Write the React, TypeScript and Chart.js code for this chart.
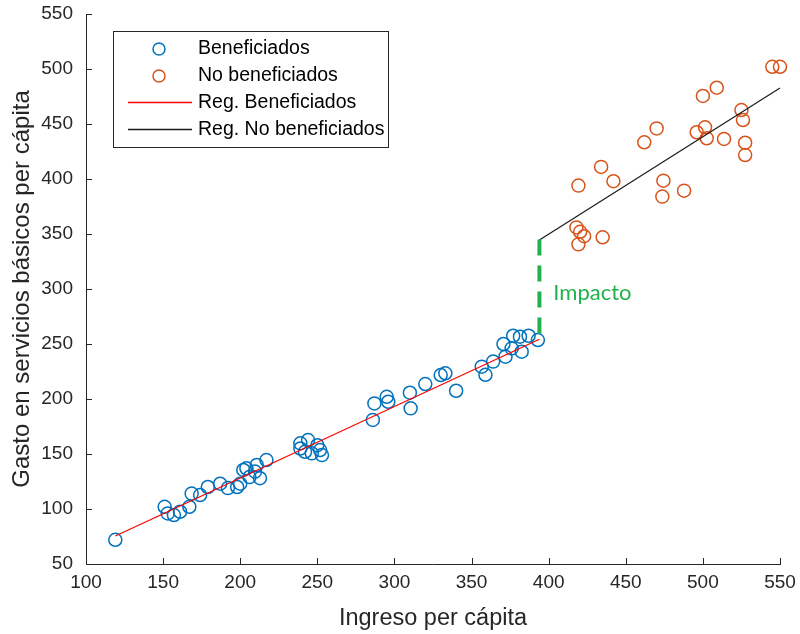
import React, { useEffect, useRef } from "react";
import { Chart, registerables } from "chart.js";

Chart.register(...registerables);

// Beneficiados (blue circles)
const benefX = [119, 151, 153, 157, 161, 167, 168.5, 174, 179, 187, 192, 198, 200, 202, 204, 206, 209.6, 210.7, 212.8, 217,
  239, 244, 239, 242, 246.4, 251.8, 253, 250, 287, 286, 295, 296, 310, 310.5, 320, 330, 333, 340,
  356.6, 359, 364, 370.7, 372, 377, 376, 382.5, 381.4, 387, 393];
const benefY = [72, 102, 96, 94.5, 97.5, 102, 114, 112.7, 120, 123, 119, 120, 123, 135.5, 137, 129, 134, 140, 128, 144.5,
  159.7, 162.7, 155, 152, 150.6, 153.6, 149, 158, 196, 181, 202, 197.5, 205.7, 191.5, 213.6, 221.8, 223.4, 207.5,
  229.4, 222, 234, 250, 238.5, 257.5, 246, 243, 256.6, 257.5, 253.6];

// No beneficiados (orange circles)
const noBenefX = [545, 550, 509, 500, 525, 526, 501.4, 496, 502.5, 513.7, 527.4, 527.4, 470, 462, 434, 442, 419.3, 474.4, 473.7, 487.8,
  418, 420.4, 423, 419.3, 435];
const noBenefY = [502, 502, 483, 475.5, 462.7, 453.6, 447, 442.5, 437, 436.4, 433, 421.8, 446, 433.4, 411, 398, 394, 398.5, 384, 389.4,
  356, 352, 348, 340.6, 347];

// Regression lines
const regBenefX = [119, 394];
const regBenefY = [75.5, 254.3];
const regNoBenefX = [394, 550];
const regNoBenefY = [344.5, 482.7];

// Impact (discontinuity)
const impactoX = [394, 394];
const impactoY = [345, 254.3];
const impactoLabel = "Impacto";
const impactoLabelPos = [403, 296.5];

const xTicks = [100, 150, 200, 250, 300, 350, 400, 450, 500, 550];
const yTicks = [50, 100, 150, 200, 250, 300, 350, 400, 450, 500, 550];

const legendLabels = ["Beneficiados", "No beneficiados", "Reg. Beneficiados", "Reg. No beneficiados"];

const BLUE = "#0072BD";
const ORANGE = "#D95319";
const AXIS = "#262626";
const GREEN = "#22B14C";
const FONT = "'Liberation Sans', Arial, Helvetica, sans-serif";

const zip = (xs: number[], ys: number[]) => xs.map((x, i) => ({ x, y: ys[i] }));

export default function App() {
  const ref = useRef<HTMLCanvasElement | null>(null);

  useEffect(() => {
    if (!ref.current) return;

    const extras = {
      id: "extras",
      afterDraw(chart: any) {
        const ctx = chart.ctx;
        const xs = chart.scales.x;
        const ys = chart.scales.y;
        const area = chart.chartArea;
        ctx.save();
        // inward ticks
        ctx.strokeStyle = AXIS;
        ctx.lineWidth = 1;
        ctx.beginPath();
        xTicks.forEach((t) => {
          const px = Math.round(xs.getPixelForValue(t)) + 0.5;
          ctx.moveTo(px, area.bottom);
          ctx.lineTo(px, area.bottom - 6);
        });
        yTicks.forEach((t) => {
          const py = Math.round(ys.getPixelForValue(t)) + 0.5;
          ctx.moveTo(area.left, py);
          ctx.lineTo(area.left + 6, py);
        });
        ctx.stroke();

        // Impacto label
        ctx.fillStyle = GREEN;
        ctx.font = `22px Lato, 'Open Sans', sans-serif`;
        ctx.textAlign = "left";
        ctx.textBaseline = "middle";
        ctx.fillText(impactoLabel, xs.getPixelForValue(impactoLabelPos[0]), ys.getPixelForValue(impactoLabelPos[1]));

        // Legend
        const bx = 113, by = 31, bw = 275, bh = 116;
        ctx.fillStyle = "#ffffff";
        ctx.fillRect(bx, by, bw, bh);
        ctx.strokeStyle = AXIS;
        ctx.lineWidth = 1;
        ctx.strokeRect(bx + 0.5, by + 0.5, bw, bh);
        const rows = [49, 76, 102.5, 129.5];
        ctx.font = `19.5px ${FONT}`;
        ctx.textBaseline = "middle";
        ctx.textAlign = "left";
        legendLabels.forEach((lab, i) => {
          const y = rows[i];
          if (i < 2) {
            ctx.strokeStyle = i === 0 ? BLUE : ORANGE;
            ctx.lineWidth = 1.5;
            ctx.beginPath();
            ctx.arc(159, y, 6, 0, Math.PI * 2);
            ctx.stroke();
          } else {
            ctx.strokeStyle = i === 2 ? "#FF0000" : "#1a1a1a";
            ctx.lineWidth = 1.3;
            ctx.beginPath();
            ctx.moveTo(128, y);
            ctx.lineTo(192, y);
            ctx.stroke();
          }
          ctx.fillStyle = "#000000";
          ctx.fillText(lab, 198, y);
        });
        ctx.restore();
      },
    };

    const chart = new Chart(ref.current, {
      type: "scatter",
      data: {
        datasets: [
          {
            label: legendLabels[0],
            data: zip(benefX, benefY),
            pointRadius: 6.5,
            pointBorderWidth: 1.5,
            borderColor: BLUE,
            backgroundColor: "rgba(0,0,0,0)",
            order: 2,
          },
          {
            label: legendLabels[1],
            data: zip(noBenefX, noBenefY),
            pointRadius: 6.5,
            pointBorderWidth: 1.5,
            borderColor: ORANGE,
            backgroundColor: "rgba(0,0,0,0)",
            order: 2,
          },
          {
            label: legendLabels[2],
            data: zip(regBenefX, regBenefY),
            showLine: true,
            pointRadius: 0,
            borderColor: "#FF0000",
            borderWidth: 1.2,
            order: 1,
          },
          {
            label: legendLabels[3],
            data: zip(regNoBenefX, regNoBenefY),
            showLine: true,
            pointRadius: 0,
            borderColor: "#1a1a1a",
            borderWidth: 1.2,
            order: 1,
          },
          {
            label: impactoLabel,
            data: zip(impactoX, impactoY),
            showLine: true,
            pointRadius: 0,
            borderColor: GREEN,
            borderWidth: 4,
            borderDash: [16, 10],
            order: 0,
          },
        ],
      },
      options: {
        animation: false,
        responsive: true,
        maintainAspectRatio: false,
        clip: false,
        layout: { padding: { top: 14, right: 20, left: 0, bottom: 0 } },
        plugins: { legend: { display: false }, tooltip: { enabled: false } },
        scales: {
          x: {
            type: "linear",
            min: 100,
            max: 550,
            afterFit: (s: any) => { s.height = 70; s.paddingLeft = 0; s.paddingRight = 0; },
            afterBuildTicks: (s: any) => { s.ticks = xTicks.map((v) => ({ value: v })); },
            grid: { display: true, drawOnChartArea: false, drawTicks: false },
            border: { display: true, color: AXIS, width: 1 },
            ticks: { color: AXIS, font: { family: FONT, size: 19 }, padding: 7 },
            title: {
              display: true,
              text: "Ingreso per cápita",
              color: AXIS,
              font: { family: FONT, size: 23.5 },
              padding: { top: 0, bottom: 1 },
            },
          },
          y: {
            type: "linear",
            min: 50,
            max: 550,
            afterFit: (s: any) => { s.width = 86; s.paddingTop = 0; s.paddingBottom = 0; },
            afterBuildTicks: (s: any) => { s.ticks = yTicks.map((v) => ({ value: v })); },
            grid: { display: true, drawOnChartArea: false, drawTicks: false },
            border: { display: true, color: AXIS, width: 1 },
            ticks: { color: AXIS, font: { family: FONT, size: 19 }, padding: 13 },
            title: {
              display: true,
              text: "Gasto en servicios básicos per cápita",
              color: AXIS,
              font: { family: FONT, size: 24 },
              padding: { top: 8, bottom: 0 },
            },
          },
        },
      },
      plugins: [extras],
    } as any);

    return () => chart.destroy();
  }, []);

  return (
    <div style={{ position: "fixed", left: 0, top: 0, width: 800, height: 634, background: "#fff" }}>
      <canvas ref={ref} />
    </div>
  );
}
